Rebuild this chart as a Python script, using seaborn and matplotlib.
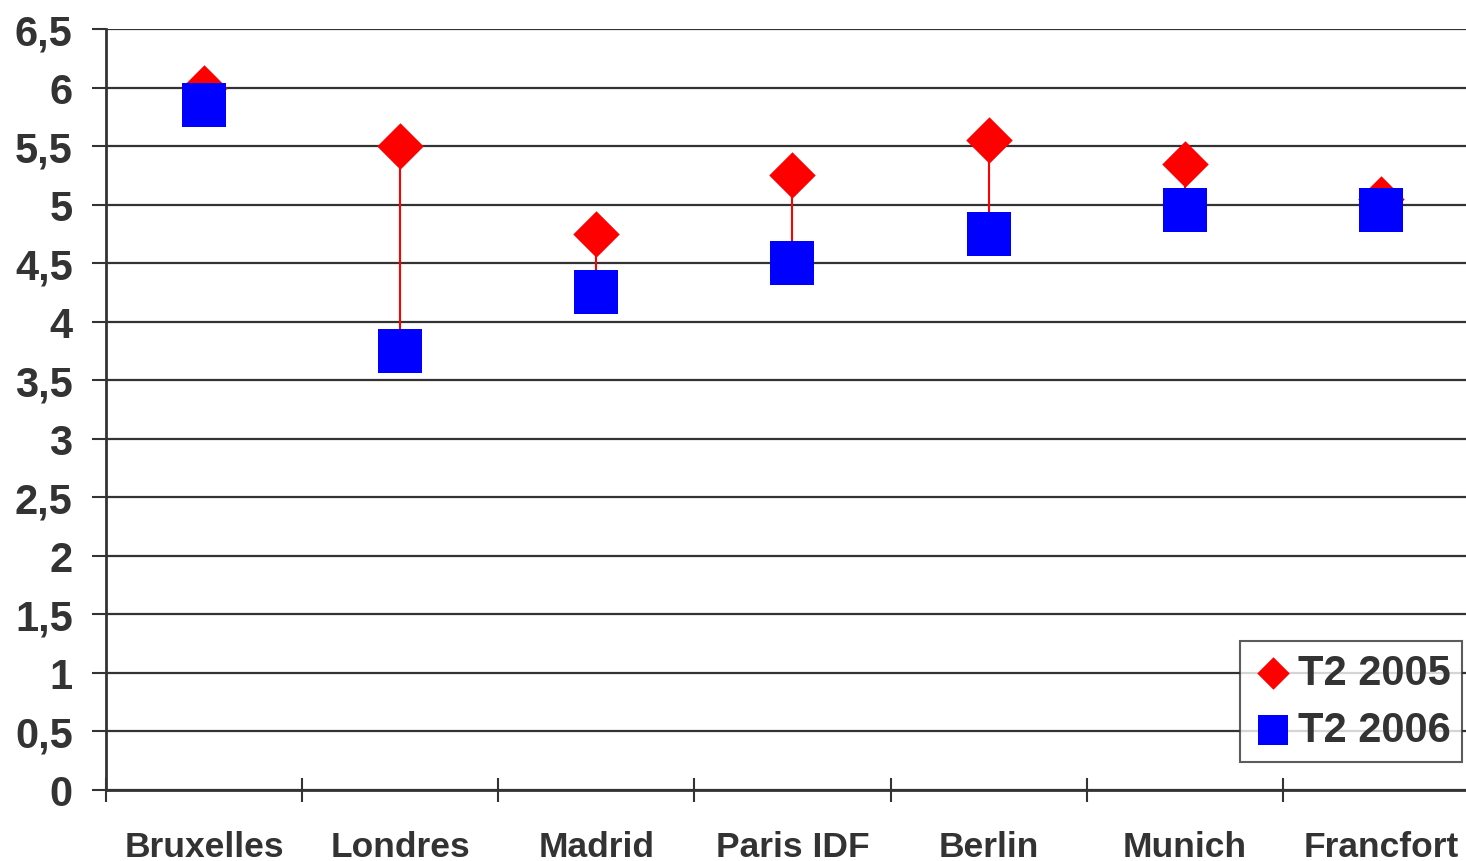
import numpy as np
import pandas as pd
import matplotlib
matplotlib.use("Agg")
import matplotlib.pyplot as plt
import seaborn as sns

# Data
villes = ["Bruxelles", "Londres", "Madrid", "Paris IDF", "Berlin", "Munich", "Francfort"]
t2_2005 = [6.0, 5.5, 4.75, 5.25, 5.55, 5.35, 5.05]
t2_2006 = [5.85, 3.75, 4.25, 4.5, 4.75, 4.95, 4.95]
series = ["T2 2005", "T2 2006"]
y_ticks = [0, 0.5, 1, 1.5, 2, 2.5, 3, 3.5, 4, 4.5, 5, 5.5, 6, 6.5]

sns.set_theme(style="white")
plt.rcParams["font.family"] = ["Liberation Sans", "DejaVu Sans"]
plt.rcParams["font.weight"] = "bold"

ink = "#333333"

df = pd.DataFrame({
    "ville": villes * 2,
    "pos": list(range(len(villes))) * 2,
    "valeur": t2_2005 + t2_2006,
    "serie": [series[0]] * len(villes) + [series[1]] * len(villes),
})

fig = plt.figure(figsize=(14.66, 8.62), dpi=100)
ax = fig.add_axes([106 / 1466, 1 - 791 / 862, (1479 - 106) / 1466, (791 - 30) / 862])

# high-low connectors between the two quarters
ax.vlines(range(len(villes)), t2_2006, t2_2005, color="#ff0000", linewidth=1.5, zorder=2)

sns.scatterplot(
    data=df[df.serie == series[0]], x="pos", y="valeur", ax=ax,
    marker="D", s=560, color="#ff0000", linewidth=0, zorder=3, label=series[0],
)
sns.scatterplot(
    data=df[df.serie == series[1]], x="pos", y="valeur", ax=ax,
    marker="s", s=1000, color="#0000ff", linewidth=0, zorder=4, label=series[1],
)

ax.set_xlim(-0.5, len(villes) - 0.5)
ax.set_ylim(0, 6.5)
ax.set_yticks(y_ticks)
ax.set_yticklabels([("%g" % v).replace(".", ",") for v in y_ticks])
ax.set_xticks(range(len(villes)))
ax.set_xticklabels(villes)
ax.set_xticks(np.arange(-0.5, len(villes), 1.0), minor=True)
ax.set_xlabel("")
ax.set_ylabel("")

ax.yaxis.grid(True, color=ink, linewidth=1.6)
ax.set_axisbelow(True)
for side in ["top", "right"]:
    ax.spines[side].set_visible(False)
for side in ["left", "bottom"]:
    ax.spines[side].set_color(ink)
    ax.spines[side].set_linewidth(2)

ax.tick_params(axis="y", which="major", direction="out", length=10, width=1.5,
               color=ink, labelsize=30, labelcolor=ink, pad=14, left=True)
ax.tick_params(axis="x", which="major", length=0, labelsize=25.5, labelcolor=ink, pad=29)
ax.tick_params(axis="x", which="minor", direction="inout", length=17, width=1.5,
               color=ink, bottom=True)
for lab in ax.get_xticklabels() + ax.get_yticklabels():
    lab.set_fontweight("bold")

leg = ax.legend(
    loc="upper right", bbox_to_anchor=(1462 / 1466, 1 - 642 / 862),
    bbox_transform=fig.transFigure, frameon=True, fancybox=False,
    fontsize=30, borderaxespad=0, handletextpad=0.1, borderpad=0.28,
    labelspacing=0.42, handlelength=1.0, markerscale=0.7,
)
leg.get_frame().set_edgecolor(ink)
leg.get_frame().set_linewidth(1.5)
for t in leg.get_texts():
    t.set_color(ink)
    t.set_fontweight("bold")

fig.savefig("out.png", dpi=100)
